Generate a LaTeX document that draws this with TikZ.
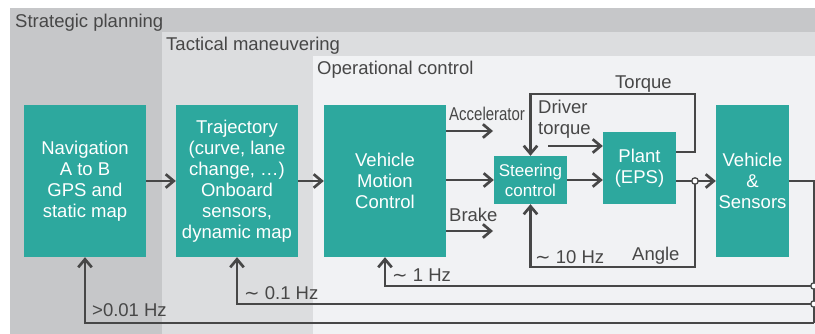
\documentclass[tikz,border=0pt]{standalone}
\usepackage{fontspec}
\setmainfont{Liberation Sans}
\newfontfamily\dejavu{DejaVu Sans}
\usetikzlibrary{arrows.meta}
\definecolor{tealbox}{HTML}{2DA89E}
\definecolor{bgS}{HTML}{C6C7C9}
\definecolor{bgT}{HTML}{DCDDDF}
\definecolor{bgO}{HTML}{F1F2F4}
\definecolor{ln}{HTML}{474747}
\newcommand{\tld}{{\dejavu\char"223C}}
\begin{document}
\begin{tikzpicture}[x=1pt,y=-1pt,
  blk/.style={fill=tealbox, text=white, align=center, inner sep=0pt,
    font=\fontsize{18.5}{21}\selectfont},
  lbl/.style={text=ln, inner sep=0pt, font=\fontsize{18.5}{21}\selectfont},
  wire/.style={draw=ln, line width=2.7pt},
  arr/.style={wire, -{Straight Barb[length=8pt, width=13.5pt, line width=2.7pt]}},
  jn/.style={circle, draw=ln, fill=white, line width=1.3pt, inner sep=0pt, minimum size=6.5pt}]
\useasboundingbox (0,0) rectangle (815,334);
\fill[bgS] (10,8) rectangle (815,334);
\fill[bgT] (162,32) rectangle (815,334);
\fill[bgO] (313,56) rectangle (815,334);

\node[lbl, anchor=base west] (tS) at (15,27.5) {Strategic planning};
\node[lbl, anchor=base west] (tT) at (166,51) {Tactical maneuvering};
\node[lbl, anchor=base west] (tO) at (317,75) {Operational control};

\node[blk, minimum width=122, minimum height=152] (nav) at (85,181) {Navigation\\A to B\\GPS and\\static map};
\node[blk, minimum width=122, minimum height=152] (traj) at (237,181) {Trajectory\\(curve, lane\\change, \dots)\\Onboard\\sensors,\\dynamic map};
\node[blk, minimum width=122, minimum height=152] (vmc) at (385,181) {Vehicle\\Motion\\Control};
\node[blk, minimum width=73, minimum height=48, font=\fontsize{17}{20}\selectfont] (steer) at (530.5,180) {Steering\\control};
\node[blk, minimum width=73, minimum height=72] (plant) at (639.5,168) {Plant\\(EPS)};
\node[blk, minimum width=73, minimum height=152] (veh) at (752.5,181) {Vehicle\\\&\\Sensors};

\draw[arr] (nav.east) -- (traj.west);
\draw[arr] (traj.east) -- (vmc.west);

\coordinate (accE) at (493,131);
\coordinate (brE) at (493,231);
\draw[arr] (vmc.east |- accE) -- (accE);
\draw[arr] (vmc.east |- steer.west) -- (steer.west);
\draw[arr] (vmc.east |- brE) -- (brE);
\node[lbl, anchor=base west] (accL) at (449,121) {\scalebox{0.81}[1]{Accelerator}};
\node[lbl, anchor=base west] (brL) at (449,221.5) {Brake};

\draw[arr] (steer.east) -- (plant.west |- steer.east);
\coordinate (dtS) at (548,146);
\draw[arr] (dtS) -- (plant.west |- dtS);
\node[lbl, anchor=base west, align=left] (dtL) at (538,135) {Driver\\torque};

\coordinate (tqA) at (676,152);
\coordinate (tqB) at (695,94);
\draw[arr] (tqA) -| (tqB) -| (steer.north);
\node[lbl, anchor=base west] (tqL) at (615,89) {Torque};

\coordinate (J) at (695,181);
\coordinate (angC) at (530.5,267);
\draw[wire] (plant.east |- veh.west) -- (J);
\draw[arr] (J) -- (veh.west);
\draw[arr] (J) |- (angC) -- (steer.south);
\node[jn] (Jc) at (J) {};
\node[lbl, anchor=base west] (hz10) at (535,263) {\tld\ 10 Hz};
\node[lbl, anchor=base west] (angL) at (632,260.5) {Angle};

\coordinate (R1) at (814,286);
\coordinate (R2) at (814,304);
\coordinate (R3) at (814,323);
\draw[wire] (veh.east) -| (R3);
\draw[arr] (R1) -| (vmc.south);
\draw[arr] (R2) -| (traj.south);
\draw[arr] (R3) -| (nav.south);
\node[jn] (R1c) at (R1) {};
\node[jn] (R2c) at (R2) {};
\node[lbl, anchor=base west] (hz1) at (392,281.5) {\tld\ 1 Hz};
\node[lbl, anchor=base west] (hz01) at (244,299) {\tld\ 0.1 Hz};
\node[lbl, anchor=base west] (hz001) at (92,316.5) {>0.01 Hz};
\end{tikzpicture}
\end{document}
